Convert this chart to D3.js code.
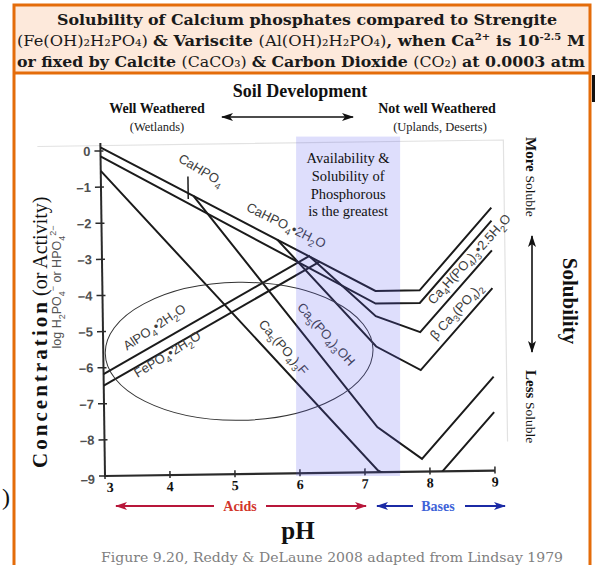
<!DOCTYPE html>
<html><head><meta charset="utf-8">
<script src="https://cdn.jsdelivr.net/npm/d3@7"></script>
<style>
html,body{margin:0;padding:0;background:#fff;}
svg{display:block;}
</style></head>
<body>
<svg id="chart" width="602" height="565"></svg>
<script>
// ---- data ----------------------------------------------------------
const pHTicks  = [3, 4, 5, 6, 7, 8, 9];
const logTicks = [0, -1, -2, -3, -4, -5, -6, -7, -8, -9];

// each series: [pH, log H2PO4- or HPO4 2-]
const dcpd     = [[3, 0.1], [7.2, -3.98], [7.88, -3.98], [9, -1.72]];   // CaHPO4·2H2O
const dcpa     = [[3, -0.15], [7.2, -4.33], [7.88, -4.33], [9, -2.08]]; // CaHPO4
const ocp      = [[6.2, -3.01], [7.2, -4.68], [7.88, -5.14], [9, -2.9]]; // Ca4H(PO4)3·2.5H2O
const tcp      = [[5.7, -2.52], [7.2, -5.52], [7.88, -6.19], [9, -3.95]]; // β-Ca3(PO4)2
const hap      = [[4.42, -1.28], [7.2, -7.75], [7.88, -8.65], [9, -6.4]]; // Ca5(PO4)3OH
const fap      = [[3, -0.55], [7.2, -8.95], [7.88, -9.63], [9, -7.38]];  // Ca5(PO4)3F
const variscite = [[3, -6.18], [6.2, -2.98]];                          // AlPO4·2H2O
const strengite = [[3, -6.5], [6.35, -3.15]];                           // FePO4·2H2O

const bandRange  = [5.94, 7.54];          // pH range of greatest availability
const ellipseFe  = {pH: 5.09, log: -5.6, rpH: 2.06, rlog: 1.91};

const seriesLabels = [
  {text: "CaHPO_{4}",                  pH: 4.51, log: -0.67, angle: 32},
  {text: "CaHPO_{4}•2H_{2}O",          pH: 5.81, log: -2.24, angle: 27},
  {text: "AlPO_{4}•2H_{2}O",           pH: 3.83, log: -5.0,  angle: -33},
  {text: "FePO_{4}•2H_{2}O",           pH: 4.02, log: -5.76, angle: -31},
  {text: "Ca_{5}(PO_{4})_{3}F",        pH: 5.72, log: -5.58, angle: 50},
  {text: "Ca_{5}(PO_{4})_{3}OH",       pH: 6.38, log: -5.24, angle: 49},
  {text: "Ca_{4}H(PO_{4})_{3}•2.5H_{2}O", pH: 8.7, log: -3.22, angle: -47},
  {text: "β Ca_{3}(PO_{4})_{2}",       pH: 8.49, log: -4.66, angle: -47}
];

// ---- setup ---------------------------------------------------------
const W = 602, H = 565;
const orange = "#e46c0a";
const ink = "#1b1b1b";
const serif = "'Liberation Serif','Times New Roman',serif";
const sans = "'Liberation Sans',Arial,sans-serif";
const titleFont = "'DejaVu Serif',serif";

const svg = d3.select("#chart");
const x = d3.scaleLinear().domain([3, 9]).range([105, 495]);
const y = d3.scaleLinear().domain([-9, 0]).range([476, 151]);
const tilt = -0.8; // the scanned plot sits slightly rotated

// writes "A_{2}B^{3-}" style text into a <text> as tspans
function rich(t, s, fs) {
  let shift = 0;
  const re = /([_^])\{([^}]*)\}|([^_^]+)/g;
  let m;
  while ((m = re.exec(s))) {
    let target = 0, txt, size = fs;
    if (m[1]) { txt = m[2]; size = fs * 0.72; target = m[1] === "_" ? fs * 0.3 : -fs * 0.42; }
    else txt = m[3];
    t.append("tspan").attr("dy", target - shift).attr("font-size", size).text(txt);
    shift = target;
  }
}
// bold/normal/superscript segments
function segs(t, list, fs) {
  let shift = 0;
  list.forEach(([txt, w, sup]) => {
    const target = sup ? -fs * 0.4 : 0;
    t.append("tspan").attr("dy", target - shift)
      .attr("font-weight", w === "b" ? "bold" : "normal")
      .attr("font-size", sup ? fs * 0.62 : fs).text(txt);
    shift = target;
  });
}

svg.append("rect").attr("width", W).attr("height", H).attr("fill", "#fff");

// ---- title panel ---------------------------------------------------
svg.append("rect").attr("x", 14).attr("y", 5).attr("width", 576).attr("height", 68).attr("fill", "#fde9db");
svg.append("path").attr("d", "M14,575V5H590V575M14,73H590")
  .attr("fill", "none").attr("stroke", orange).attr("stroke-width", 3);
svg.append("rect").attr("x", 592).attr("y", 75).attr("width", 3).attr("height", 27).attr("fill", "#111");

svg.append("text").attr("x", 307).attr("y", 25).attr("text-anchor", "middle")
  .attr("font-family", titleFont).attr("font-size", 15).attr("font-weight", "bold").attr("fill", "#1a1a1a")
  .attr("textLength", 500).attr("lengthAdjust", "spacingAndGlyphs")
  .text("Solubility of Calcium phosphates compared to Strengite");
const title2 = svg.append("text").attr("x", 301).attr("y", 46).attr("text-anchor", "middle")
  .attr("font-family", titleFont).attr("fill", "#1a1a1a")
  .attr("textLength", 568).attr("lengthAdjust", "spacingAndGlyphs");
segs(title2, [["(Fe(OH)₂H₂PO₄) ", "n"], ["& Variscite ", "b"], ["(Al(OH)₂H₂PO₄)", "n"],
  [", when Ca", "b"], ["2+", "b", 1], [" is 10", "b"], ["-2.5", "b", 1], [" M", "b"]], 15);
const title3 = svg.append("text").attr("x", 301).attr("y", 67).attr("text-anchor", "middle")
  .attr("font-family", titleFont).attr("fill", "#1a1a1a")
  .attr("textLength", 568).attr("lengthAdjust", "spacingAndGlyphs");
segs(title3, [["or fixed by Calcite ", "b"], ["(CaCO₃) ", "n"], ["& Carbon Dioxide ", "b"],
  ["(CO₂) ", "n"], ["at 0.0003 atm", "b"]], 15);

// ---- arrow markers -------------------------------------------------
const defs = svg.append("defs");
function marker(id, color) {
  defs.append("marker").attr("id", id).attr("viewBox", "0 0 12 8").attr("refX", 11).attr("refY", 4)
    .attr("markerWidth", 12).attr("markerHeight", 8).attr("markerUnits", "userSpaceOnUse")
    .attr("orient", "auto-start-reverse")
    .append("path").attr("d", "M0,0L12,4L0,8L3,4Z").attr("fill", color);
}
marker("arK", "#111");
marker("arR", "#b8173a");
marker("arB", "#1b2aa5");

// ---- soil development header --------------------------------------
svg.append("text").attr("x", 300).attr("y", 97).attr("text-anchor", "middle")
  .attr("font-family", serif).attr("font-weight", "bold").attr("font-size", 18).attr("fill", "#111")
  .text("Soil Development");
svg.append("text").attr("x", 157).attr("y", 113).attr("text-anchor", "middle")
  .attr("font-family", serif).attr("font-weight", "bold").attr("font-size", 14).attr("fill", "#111")
  .text("Well Weathered");
svg.append("text").attr("x", 157).attr("y", 131).attr("text-anchor", "middle")
  .attr("font-family", serif).attr("font-size", 12.5).attr("fill", "#222").text("(Wetlands)");
svg.append("text").attr("x", 437).attr("y", 113).attr("text-anchor", "middle")
  .attr("font-family", serif).attr("font-weight", "bold").attr("font-size", 14).attr("fill", "#111")
  .text("Not well Weathered");
svg.append("text").attr("x", 440).attr("y", 131).attr("text-anchor", "middle")
  .attr("font-family", serif).attr("font-size", 12.5).attr("fill", "#222").text("(Uplands, Deserts)");
svg.append("line").attr("x1", 222).attr("x2", 353).attr("y1", 117).attr("y2", 117)
  .attr("stroke", "#111").attr("stroke-width", 1.6)
  .attr("marker-start", "url(#arK)").attr("marker-end", "url(#arK)");

// ---- plot ---------------------------------------------------------
const plot = svg.append("g").attr("transform", `rotate(${tilt},${x(3)},${y(-9)})`);

// faint frame of the original plot
plot.append("path")
  .attr("d", `M${x(2.03)},${y(0.15)}L${x(9.2)},${y(0.15)}L${x(9.2)},${y(-8.2)}`)
  .attr("fill", "none").attr("stroke", "#e2e2e2").attr("stroke-width", 1.2);

plot.append("clipPath").attr("id", "plotClip").append("rect")
  .attr("x", x(3) - 2).attr("y", y(0.6)).attr("width", x(9.4) - x(3) + 2).attr("height", y(-9) - y(0.6));

// y axis
plot.append("line").attr("x1", x(3)).attr("x2", x(3)).attr("y1", y(0.22)).attr("y2", y(-9))
  .attr("stroke", "#2a2a2a").attr("stroke-width", 2);
const yt = plot.append("g").selectAll("g").data(logTicks).join("g")
  .attr("transform", d => `translate(${x(3)},${y(d)})`);
yt.append("line").attr("x1", -6).attr("x2", 3).attr("stroke", "#2a2a2a").attr("stroke-width", 1.5);
yt.append("text").attr("x", -10).attr("dy", d => d === -9 ? "0.6em" : "0.36em").attr("text-anchor", "end")
  .attr("font-family", sans).attr("font-weight", "bold").attr("font-size", 13).attr("fill", "#505050")
  .text(d => d === 0 ? "0" : "\u2013" + Math.abs(d));

// x axis
plot.append("line").attr("x1", x(3) - 1).attr("x2", x(9)).attr("y1", y(-9)).attr("y2", y(-9))
  .attr("stroke", "#2a2a2a").attr("stroke-width", 2.2);
const xt = plot.append("g").selectAll("g").data(pHTicks).join("g")
  .attr("transform", d => `translate(${x(d)},${y(-9)})`);
xt.append("line").attr("y1", -4).attr("y2", 3).attr("stroke", "#2a2a2a").attr("stroke-width", 1.5);
xt.append("text").attr("x", d => d === 3 ? 5 : 0).attr("y", 16).attr("text-anchor", "middle")
  .attr("font-family", serif).attr("font-weight", "bold").attr("font-size", 14).attr("fill", "#111")
  .text(d => d);

// solubility lines
const line = d3.line().x(d => x(d[0])).y(d => y(d[1]));
const lines = plot.append("g").attr("clip-path", "url(#plotClip)");
[dcpd, dcpa, ocp, tcp, hap, fap, variscite, strengite].forEach(s => {
  lines.append("path").attr("d", line(s)).attr("fill", "none")
    .attr("stroke", ink).attr("stroke-width", 2).attr("stroke-linejoin", "miter");
});
// leader mark for the CaHPO4 label
plot.append("line").attr("x1", x(4.34)).attr("x2", x(4.34)).attr("y1", y(-0.74)).attr("y2", y(-1.36))
  .attr("stroke", ink).attr("stroke-width", 1.5);

// ellipse around the Al / Fe phosphate region
plot.append("ellipse")
  .attr("cx", x(ellipseFe.pH)).attr("cy", y(ellipseFe.log))
  .attr("rx", x(ellipseFe.pH + ellipseFe.rpH) - x(ellipseFe.pH))
  .attr("ry", y(ellipseFe.log - ellipseFe.rlog) - y(ellipseFe.log))
  .attr("fill", "none").attr("stroke", "#333").attr("stroke-width", 1);

// series labels
seriesLabels.forEach(l => {
  const t = plot.append("text")
    .attr("transform", `translate(${x(l.pH)},${y(l.log)}) rotate(${l.angle})`)
    .attr("text-anchor", "middle").attr("dy", "0.35em")
    .attr("font-family", sans).attr("fill", "#3c3c3c");
  rich(t, l.text, 13);
});

// band of greatest availability (drawn over the lines)
svg.append("rect").attr("x", x(bandRange[0])).attr("width", x(bandRange[1]) - x(bandRange[0]))
  .attr("y", y(0.4)).attr("height", y(-9) - y(0.4))
  .attr("fill", "#5a5af0").attr("fill-opacity", 0.2);
const bandMid = (x(bandRange[0]) + x(bandRange[1])) / 2;
["Availability &", "Solubility of", "Phosphorous", "is the greatest"].forEach((s, i) => {
  svg.append("text").attr("x", bandMid).attr("y", 163 + i * 17.8).attr("text-anchor", "middle")
    .attr("font-family", serif).attr("font-size", 14.5).attr("fill", "#111").text(s);
});

// ---- axis titles ---------------------------------------------------
const yTitle = svg.append("g").attr("transform", "translate(40,468) rotate(-90)");
yTitle.append("text").attr("x", 0).attr("dy", "0.35em")
  .attr("font-family", serif).attr("font-weight", "bold").attr("font-size", 21).attr("fill", "#111")
  .attr("textLength", 166).attr("lengthAdjust", "spacing").text("Concentration");
yTitle.append("text").attr("x", 172).attr("dy", "0.35em")
  .attr("font-family", serif).attr("font-size", 20).attr("fill", "#111").text("(or Activity)");
const ySub = svg.append("text").attr("transform", "translate(61,287) rotate(-90)")
  .attr("text-anchor", "middle").attr("dy", "0.35em")
  .attr("font-family", sans).attr("fill", "#555");
rich(ySub, "log H_{2}PO_{4}^{\u2212} or HPO_{4}^{2\u2212}", 12.5);

// right-hand solubility scale
const more = svg.append("text").attr("transform", "translate(532,137) rotate(90)").attr("dy", "0.35em")
  .attr("font-family", serif).attr("fill", "#111");
more.append("tspan").attr("font-weight", "bold").attr("font-size", 15).text("More ");
more.append("tspan").attr("font-size", 13.5).text("Soluble");
const less = svg.append("text").attr("transform", "translate(532,370) rotate(90)").attr("dy", "0.35em")
  .attr("font-family", serif).attr("fill", "#111");
less.append("tspan").attr("font-weight", "bold").attr("font-size", 15).text("Less ");
less.append("tspan").attr("font-size", 13.5).text("Soluble");
svg.append("line").attr("x1", 532).attr("x2", 532).attr("y1", 236).attr("y2", 352)
  .attr("stroke", "#111").attr("stroke-width", 1.6)
  .attr("marker-start", "url(#arK)").attr("marker-end", "url(#arK)");
svg.append("text").attr("transform", "translate(570,301) rotate(90)").attr("text-anchor", "middle")
  .attr("dy", "0.35em").attr("font-family", serif).attr("font-weight", "bold").attr("font-size", 21)
  .attr("fill", "#111").text("Solubility");

// acids / bases
svg.append("line").attr("x1", 214).attr("x2", 116).attr("y1", 506).attr("y2", 506)
  .attr("stroke", "#b8173a").attr("stroke-width", 2).attr("marker-end", "url(#arR)");
svg.append("line").attr("x1", 266).attr("x2", 366).attr("y1", 506).attr("y2", 506)
  .attr("stroke", "#b8173a").attr("stroke-width", 2).attr("marker-end", "url(#arR)");
svg.append("text").attr("x", 240).attr("y", 511).attr("text-anchor", "middle")
  .attr("font-family", serif).attr("font-weight", "bold").attr("font-size", 14).attr("fill", "#d2352b")
  .text("Acids");
svg.append("line").attr("x1", 413).attr("x2", 377).attr("y1", 506).attr("y2", 506)
  .attr("stroke", "#1b2aa5").attr("stroke-width", 2).attr("marker-end", "url(#arB)");
svg.append("line").attr("x1", 465).attr("x2", 505).attr("y1", 506).attr("y2", 506)
  .attr("stroke", "#1b2aa5").attr("stroke-width", 2).attr("marker-end", "url(#arB)");
svg.append("text").attr("x", 438).attr("y", 511).attr("text-anchor", "middle")
  .attr("font-family", serif).attr("font-weight", "bold").attr("font-size", 14).attr("fill", "#3f63d8")
  .text("Bases");

svg.append("text").attr("x", 298).attr("y", 539).attr("text-anchor", "middle")
  .attr("font-family", serif).attr("font-weight", "bold").attr("font-size", 25).attr("fill", "#111")
  .text("pH");
svg.append("text").attr("x", 332).attr("y", 562).attr("text-anchor", "middle")
  .attr("font-family", titleFont).attr("font-size", 13).attr("fill", "#808080")
  .attr("textLength", 462).attr("lengthAdjust", "spacingAndGlyphs")
  .text("Figure 9.20, Reddy & DeLaune 2008 adapted from Lindsay 1979");

svg.append("text").attr("x", 2).attr("y", 505).attr("font-family", serif).attr("font-size", 24)
  .attr("fill", "#111").text(")");
</script>
</body></html>
